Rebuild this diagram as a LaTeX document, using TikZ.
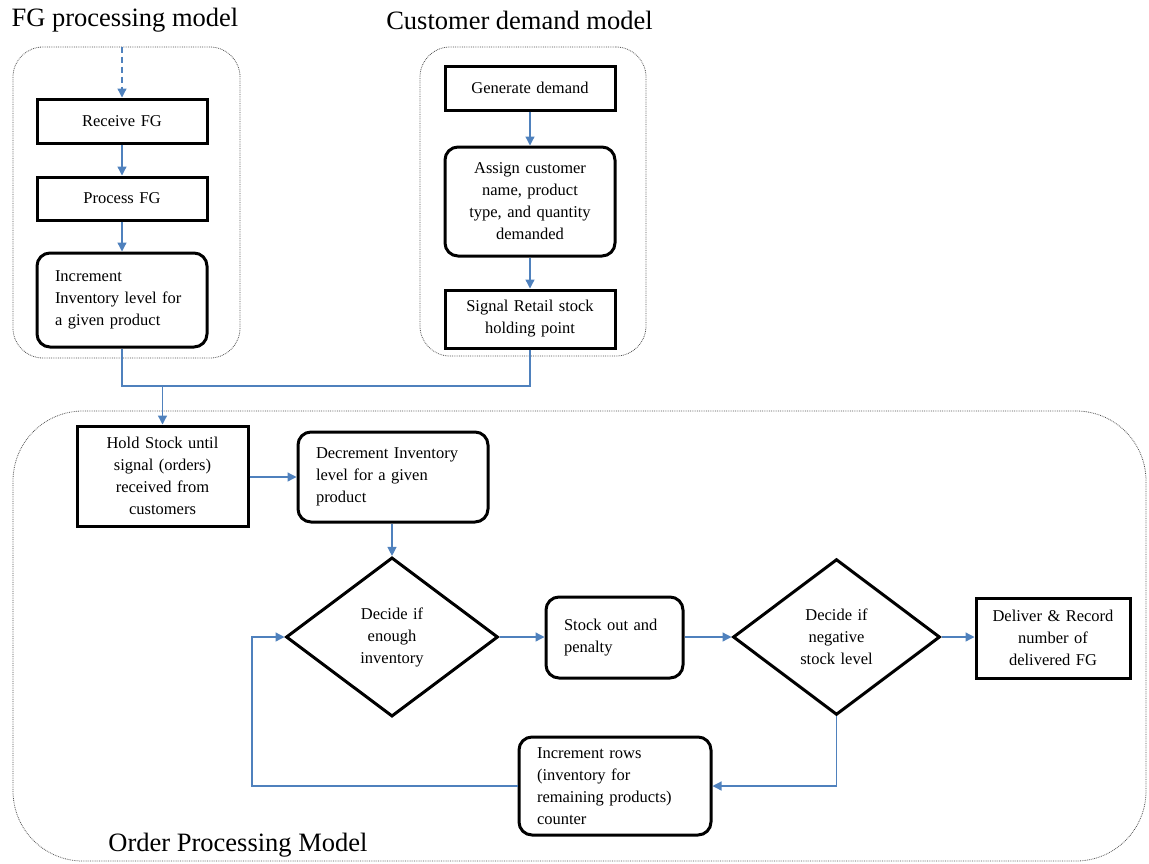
\documentclass[tikz,border=0pt]{standalone}
\usepackage{fontspec}
\setmainfont{Liberation Serif}
\usetikzlibrary{arrows.meta,shapes.geometric}
\definecolor{arrowblue}{RGB}{79,129,189}
\definecolor{contgray}{RGB}{80,80,80}
\newcommand{\boxfont}{\fontsize{16.5}{22}\selectfont}
\newcommand{\titlefont}{\fontsize{26.5}{30}\selectfont}
\tikzset{
  sqbox/.style={draw, line width=3pt, fill=white, align=center, inner xsep=5pt, inner ysep=2pt, font=\boxfont},
  rndbox/.style={sqbox, rounded corners=13pt},
  lbox/.style={rndbox, align=left, inner xsep=18pt},
  decision/.style={draw, line width=3pt, fill=white, shape=diamond, align=center, inner sep=0pt, font=\boxfont, text width=100pt},
  container/.style={draw=contgray, line width=0.8pt, densely dotted},
  conn/.style={draw=arrowblue, line width=1.3pt, -{Triangle[length=9pt,width=9pt]}},
  plainline/.style={draw=arrowblue, line width=1.3pt},
  title/.style={font=\titlefont, inner sep=0pt},
}
\begin{document}
\begin{tikzpicture}[x=1pt,y=-1pt]
\useasboundingbox (0,0) rectangle (1149,863);

% containers
\node[container, rounded corners=30pt, minimum width=227pt, minimum height=311pt] (fgc) at (126.5,202.5) {};
\node[container, rounded corners=30pt, minimum width=226pt, minimum height=309pt] (cdc) at (533,201.5) {};
\node[container, rounded corners=70pt, minimum width=1133pt, minimum height=450pt] (opc) at (579.5,636) {};

% titles
\node[title] (t1) at (125,20) {FG processing model};
\node[title] (t2) at (519.5,20) {Customer demand model};
\node[title] (t3) at (238,845) {Order Processing Model};

% FG processing model
\node[sqbox, text width=160pt, minimum height=44pt] (recv) at (122,121) {Receive FG};
\node[sqbox, text width=160pt, minimum height=43pt] (proc) at (122,198.5) {Process FG};
\node[lbox, text width=134pt, minimum height=94pt] (inc) at (122,300) {Increment\\Inventory level for\\a given product};

% Customer demand model
\node[sqbox, text width=160pt, minimum height=44pt] (gen) at (530,88) {Generate demand};
\node[rndbox, text width=160pt, minimum height=109pt] (assign) at (530,201.5) {Assign customer\\name, product\\type, and quantity\\demanded};
\node[sqbox, text width=160pt, minimum height=58pt] (signal) at (530,319) {Signal Retail stock\\holding point};

% Order processing model
\node[sqbox, text width=161pt, minimum height=100pt] (hold) at (162.5,476) {Hold Stock until\\signal (orders)\\received from\\customers};
\node[lbox, text width=154pt, minimum height=90pt] (dec) at (393,477) {Decrement Inventory\\level for a given\\product};
\node[decision, minimum width=212pt, minimum height=153pt] (d1) at (392,637) {Decide if\\enough\\inventory};
\node[lbox, text width=101pt, minimum height=81pt] (so) at (614.5,637.5) {Stock out and\\penalty};
\node[decision, minimum width=207pt, minimum height=151pt] (d2) at (836.5,637) {Decide if\\negative\\stock level};
\node[sqbox, text width=144pt, minimum height=80pt] (del) at (1053,638) {Deliver \& Record\\number of\\delivered FG};
\node[lbox, text width=156pt, minimum height=98pt] (incr) at (615,786) {Increment rows\\(inventory for\\remaining products)\\counter};

% connectors
\coordinate (fgin) at (recv.north |- fgc.north);
\draw[conn, dashed, dash pattern=on 6pt off 4pt] (fgin) -- (recv.north);
\draw[conn] (recv.south) -- (proc.north);
\draw[conn] (proc.south) -- (inc.north);
\draw[conn] (gen.south) -- (assign.north);
\draw[conn] (assign.south) -- (signal.north);

\coordinate (mj) at (162.5,386);
\draw[plainline] (inc.south) |- (mj);
\draw[plainline] (signal.south) |- (mj);
\draw[conn] (mj) -- (hold.north);

\draw[conn] (hold.east |- dec.west) -- (dec.west);
\draw[conn] (dec.south -| d1.north) -- (d1.north);
\draw[conn] (d1.east) -- (so.west |- d1.east);
\draw[conn] (so.east |- d2.west) -- (d2.west);
\draw[conn] (d2.east) -- (del.west |- d2.east);
\draw[conn] (d2.south) |- (incr.east);
\coordinate (lp) at (252,637);
\draw[conn] (incr.west) -| (lp) -- (d1.west);
\end{tikzpicture}
\end{document}
